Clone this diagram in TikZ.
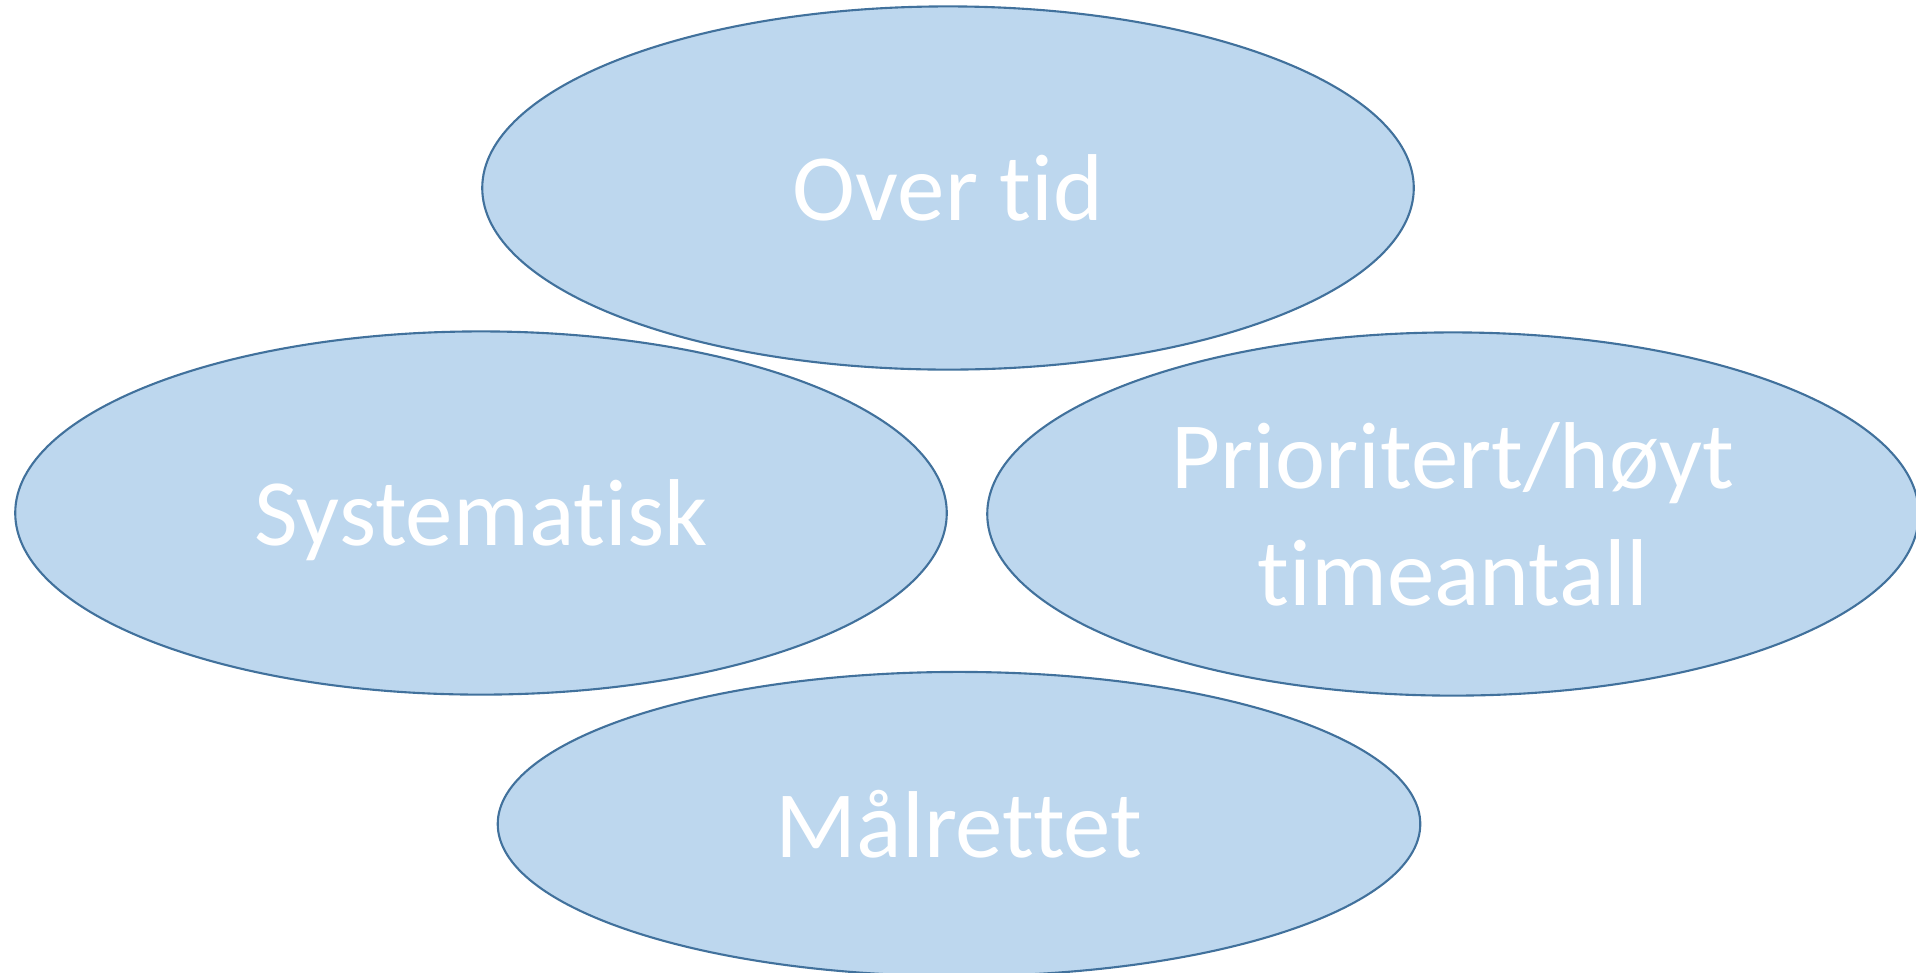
\documentclass[tikz,border=0pt]{standalone}
\usepackage{fontspec}
\setmainfont{Carlito}[Ligatures=NoCommon]
\usetikzlibrary{shapes.geometric}
\definecolor{bubblefill}{HTML}{BDD7EE}
\definecolor{bubbleline}{HTML}{41719C}
\tikzstyle{bubble}=[ellipse,draw=bubbleline,fill=bubblefill,line width=0.6pt,inner sep=0pt,minimum width=9.31cm,minimum height=3.63cm,text=white,align=center,text depth=0pt,font=\fontsize{27}{33}\selectfont]

\begin{document}
\begin{tikzpicture}[x=0.01cm, y=-0.01cm]
          \useasboundingbox (0, 0) rectangle (1916, 972);
          \node[bubble] (tid) at (948, 188) {Over tid};
          \node[bubble] (sys) at (481, 513) {Systematisk};
          \node[bubble] (prio) at (1453, 514) {Prioritert/høyt\\timeantall};
          \node[bubble, minimum width=9.22cm, minimum height=3.04cm] (maal) at (959, 824) {Målrettet};
        \end{tikzpicture}
\end{document}
